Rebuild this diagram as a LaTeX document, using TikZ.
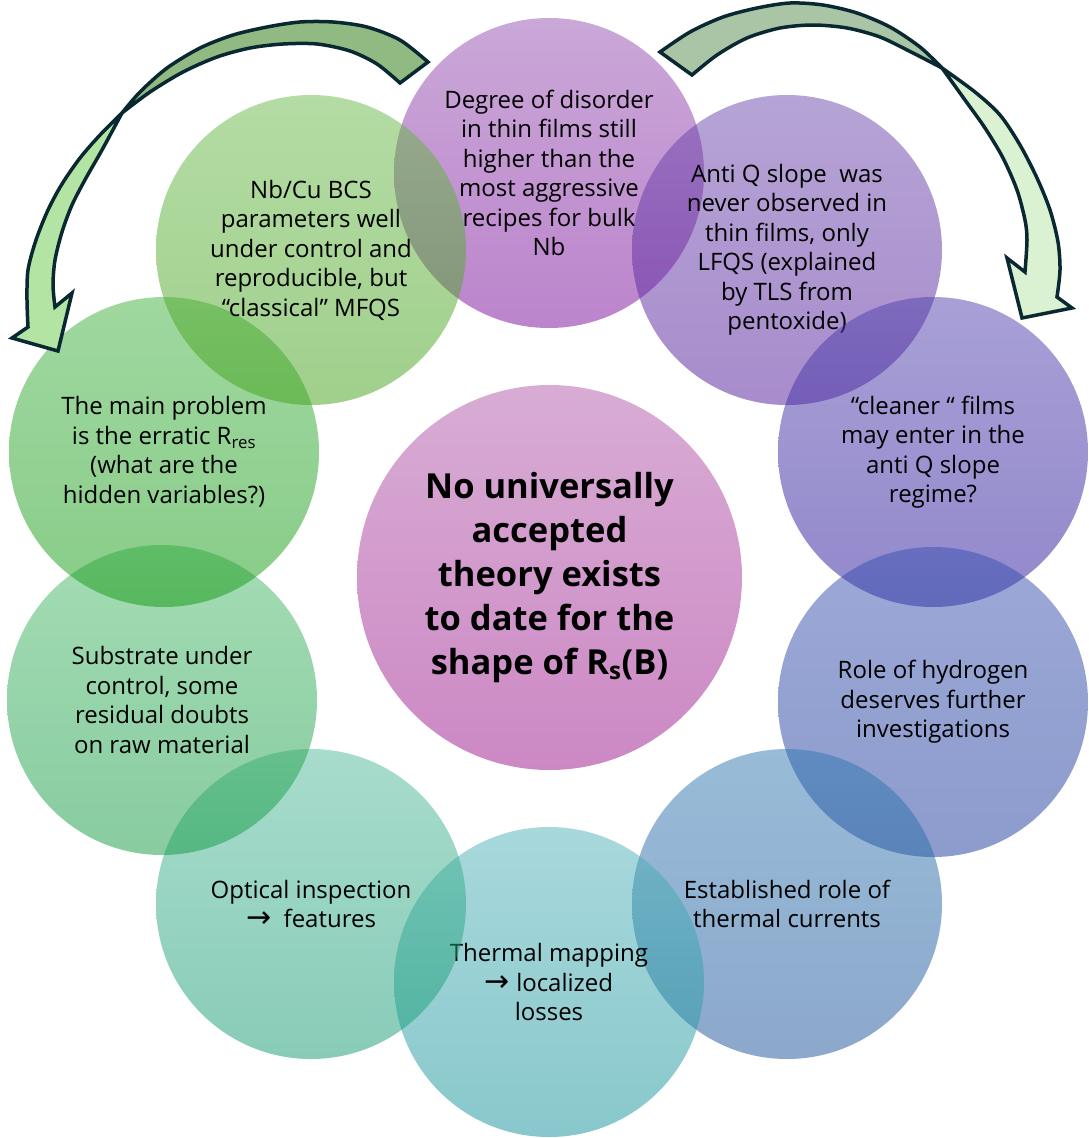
\documentclass[tikz,border=0pt]{standalone}
\usepackage{fontspec}
\setmainfont{Open Sans}
\newfontfamily\arrowfont[Scale=1.25]{DejaVu Sans}
\usepackage{tikz}

\definecolor{DisTop}{RGB}{149,81,177}
\definecolor{DisBot}{RGB}{121,9,153}
\definecolor{AntTop}{RGB}{109,73,173}
\definecolor{AntBot}{RGB}{81,25,153}
\definecolor{ClnTop}{RGB}{81,65,173}
\definecolor{ClnBot}{RGB}{37,17,153}
\definecolor{HydTop}{RGB}{57,81,177}
\definecolor{HydBot}{RGB}{25,57,153}
\definecolor{EstTop}{RGB}{49,121,177}
\definecolor{EstBot}{RGB}{25,81,153}
\definecolor{MapTop}{RGB}{81,177,185}
\definecolor{MapBot}{RGB}{17,145,153}
\definecolor{OptTop}{RGB}{81,185,153}
\definecolor{OptBot}{RGB}{17,153,113}
\definecolor{SubTop}{RGB}{73,185,105}
\definecolor{SubBot}{RGB}{17,153,65}
\definecolor{ResTop}{RGB}{65,177,65}
\definecolor{ResBot}{RGB}{17,153,17}
\definecolor{BcsTop}{RGB}{105,185,73}
\definecolor{BcsBot}{RGB}{65,161,25}
\definecolor{CoreTop}{RGB}{216,172,212}
\definecolor{CoreBot}{RGB}{204,136,196}
\definecolor{Outline}{RGB}{10,40,50}
\definecolor{LeftBack}{RGB}{145,185,130}
\definecolor{LeftFront}{RGB}{180,228,164}
\definecolor{RightBack}{RGB}{170,196,166}
\definecolor{RightFront}{RGB}{218,242,210}

\newcommand{\ra}{{\arrowfont →}}

\begin{document}
\begin{tikzpicture}[x=1pt,y=-1pt]
		\tikzstyle{Bubble}	= [circle, minimum size=310pt, inner sep=0pt, align=center, fill opacity=0.5, text opacity=1, font=\fontsize{24}{29.5}\selectfont]
		\tikzstyle{Core}	= [circle, minimum size=385pt, inner sep=0pt, align=center, font=\bfseries\fontsize{34.5}{44}\selectfont]
		\tikzstyle{Ribbon}	= [draw=Outline, line width=3.5pt]
		
		\useasboundingbox (0,0) rectangle (1089,1138);
		
		% ring of open questions, clockwise from the top
		\node (disorder) at (549,173) [Bubble, top color=DisTop, bottom color=DisBot] {Degree of disorder\\in thin films still\\higher than the\\most aggressive\\recipes for bulk\\Nb};
		\node (antiq) at (787,250) [Bubble, top color=AntTop, bottom color=AntBot] {Anti Q slope\ \ was\\never observed in\\thin films, only\\LFQS (explained\\by TLS from\\pentoxide)};
		\node (cleaner) at (933,452) [Bubble, top color=ClnTop, bottom color=ClnBot] {“cleaner “ films\\may enter in the\\anti Q slope\\regime?};
		\node (hydrogen) at (933,702) [Bubble, top color=HydTop, bottom color=HydBot] {Role of hydrogen\\deserves further\\investigations};
		\node (currents) at (787,904) [Bubble, top color=EstTop, bottom color=EstBot] {Established role of\\thermal currents};
		\node (mapping) at (549,982) [Bubble, top color=MapTop, bottom color=MapBot] {Thermal mapping\\\ra\ localized\\losses};
		\node (optical) at (311,904) [Bubble, top color=OptTop, bottom color=OptBot] {Optical inspection\\\ra\ \ features};
		\node (substrate) at (162,700) [Bubble, top color=SubTop, bottom color=SubBot] {Substrate under\\control, some\\residual doubts\\on raw material};
		\node (rres) at (164,452) [Bubble, top color=ResTop, bottom color=ResBot] {The main problem\\is the erratic R\textsubscript{res}\\(what are the\\hidden variables?)};
		\node (bcs) at (311,250) [Bubble, top color=BcsTop, bottom color=BcsBot] {Nb/Cu BCS\\parameters well\\under control and\\reproducible, but\\“classical” MFQS};
		
		\node (theory) at (549.5,577.5) [Core, top color=CoreTop, bottom color=CoreBot] {No universally\\accepted\\theory exists\\to date for the\\shape of R\textsubscript{s}(B)};
		
		% left curved arrow
		\draw [Ribbon, fill=LeftBack] plot[smooth] coordinates {(428,62) (400,40) (367,27) (333,22) (300,22) (267,27) (233,35) (200,48) (167,68) (140,92) (122,113)}
			-- plot[smooth] coordinates {(122,113) (150,92) (183,72) (217,57) (250,48) (283,44) (317,44) (350,51) (377,64) (400,83)} -- cycle;
		\draw [Ribbon, fill=LeftFront] plot[smooth] coordinates {(122,113) (100,135) (80,158) (62,184) (48,210) (36,240) (28,270) (27,300) (28,327)}
			-- (12,338) -- (58,351) -- (72,293) -- (55,307)
			-- plot[smooth] coordinates {(55,307) (53,285) (55,260) (62,232) (72,205) (86,178) (102,150) (122,113)} -- cycle;
		
		% right curved arrow
		\draw [Ribbon, fill=RightBack] plot[smooth] coordinates {(660,52) (690,32) (723,17) (757,8) (790,3) (823,5) (857,13) (890,27) (920,47) (942,68)}
			-- plot[smooth] coordinates {(942,68) (913,53) (880,37) (847,28) (813,25) (780,28) (747,38) (717,55) (692,75)} -- cycle;
		\draw [Ribbon, fill=RightFront] plot[smooth] coordinates {(942,68) (975,92) (1000,115) (1020,145) (1037,178) (1050,210) (1058,242) (1060,270) (1057,297)}
			-- (1072,308) -- (1022,318) -- (1007,258) -- (1025,272)
			-- plot[smooth] coordinates {(1025,272) (1027,240) (1025,220) (1017,190) (1003,158) (985,128) (965,100) (942,68)} -- cycle;
	\end{tikzpicture}
\end{document}
